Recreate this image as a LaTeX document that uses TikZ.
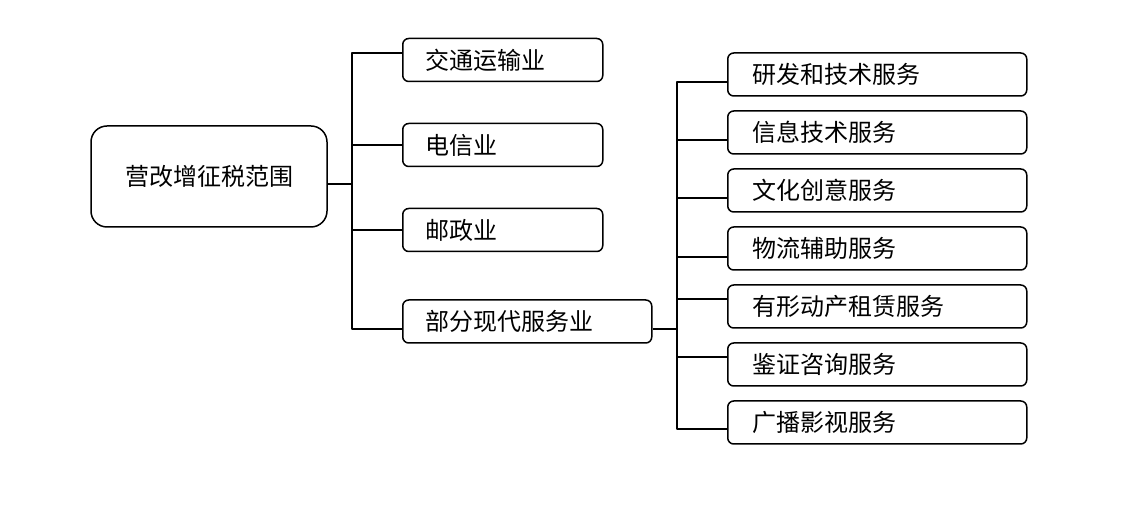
\documentclass[tikz,border=0pt]{standalone}
\usepackage{fontspec}
\newfontfamily\cjk{Noto Sans CJK SC}
\usetikzlibrary{positioning}
\tikzset{
  box/.style={draw, line width=.75pt, rounded corners=3pt, minimum height=21.5pt,
    inner xsep=11.5pt, align=left, anchor=west},
  subbox/.style={box, inner xsep=12.5pt, text width=124.5pt},
  link/.style={line width=.75pt}
}
\begin{document}
\begin{tikzpicture}[x=.5pt, y=-.5pt, font=\cjk\fontsize{12}{14}\selectfont, line join=round]
  \useasboundingbox (0,0) rectangle (1140,512);
  % root
  \node[draw, line width=.75pt, rounded corners=8pt, minimum width=118pt, minimum height=50.5pt] (root) at (209,176.5) {营改增征税范围};
  % first level
  \node[box, text width=77pt] (jt) at (402,60) {交通运输业};
  \node[box, text width=77pt] (dx) at (402,145) {电信业};
  \node[box, text width=77pt] (yz) at (402,230) {邮政业};
  \node[box, text width=101.5pt] (xd) at (402,321.5) {部分现代服务业};
  \coordinate (j1) at (352,184);
  \coordinate (j2) at (677,329);
  \draw[link] ([yshift=-3.75pt]root.east) -- (j1);
  \draw[link] ([yshift=3.5pt]jt.west) -| (j1);
  \draw[link] (dx.west) -| (j1);
  \draw[link] (yz.west) -| (j1);
  \draw[link] ([yshift=-3.75pt]xd.west) -| (j1);
  \draw[link] ([yshift=-3.75pt]xd.east) -- (j2);
  % second level
  \foreach \i/\txt/\dy in {1/研发和技术服务/-3.75, 2/信息技术服务/-3.75, 3/文化创意服务/-3.75,
      4/物流辅助服务/-4.25, 5/有形动产租赁服务/3.75, 6/鉴证咨询服务/3.75, 7/广播影视服务/-3.25}{
    \node[subbox] (s\i) at (727,{74.5+58*(\i-1)}) {\txt};
    \draw[link] ([yshift=\dy pt]s\i.west) -| (j2);
  }
\end{tikzpicture}
\end{document}
